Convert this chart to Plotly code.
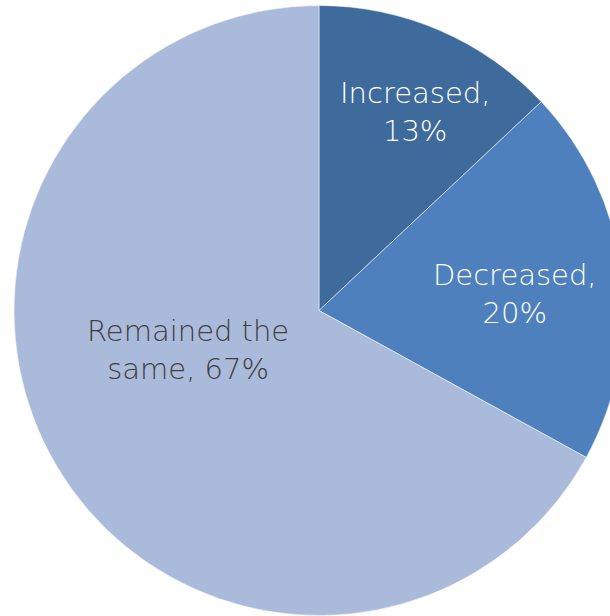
import plotly.graph_objects as go

labels = ["Increased", "Decreased", "Remained the same"]
values = [13, 20, 67]
colors = ["#3F6A9C", "#4D80BC", "#AABADA"]
text_colors = ["#FFFFFF", "#FFFFFF", "#404040"]
label_lines = ["Increased,<br>13%", "Decreased,<br>20%", "Remained the<br>same, 67%"]

W, H = 640, 616
cx, cy, r = 319, 310.5, 305

fig = go.Figure(go.Pie(
    labels=labels, values=values, sort=False, direction="clockwise", rotation=0,
    marker=dict(colors=colors, line=dict(color="white", width=0.5)),
    textinfo="none", hoverinfo="label+percent", showlegend=False,
    domain=dict(x=[(cx - r) / W, (cx + r) / W], y=[(H - cy - r) / H, (H - cy + r) / H]),
))

# label positions (pixels)
label_pos = [(415, 112), (515, 294), (188, 350)]
for txt, col, (px, py) in zip(label_lines, text_colors, label_pos):
    fig.add_annotation(x=px / W, y=1 - py / H, xref="paper", yref="paper",
                       xanchor="center", yanchor="middle",
                       text=txt, showarrow=False, align="center",
                       font=dict(family="DejaVu Sans", size=29, color=col, weight=200))

fig.update_layout(width=W, height=H, margin=dict(l=0, r=0, t=0, b=0),
                  paper_bgcolor="white", plot_bgcolor="white")

fig.write_html("out.html", config={"displayModeBar": False},
               post_script="document.body.style.margin='0';document.body.style.overflow='hidden';document.documentElement.style.overflow='hidden';")
